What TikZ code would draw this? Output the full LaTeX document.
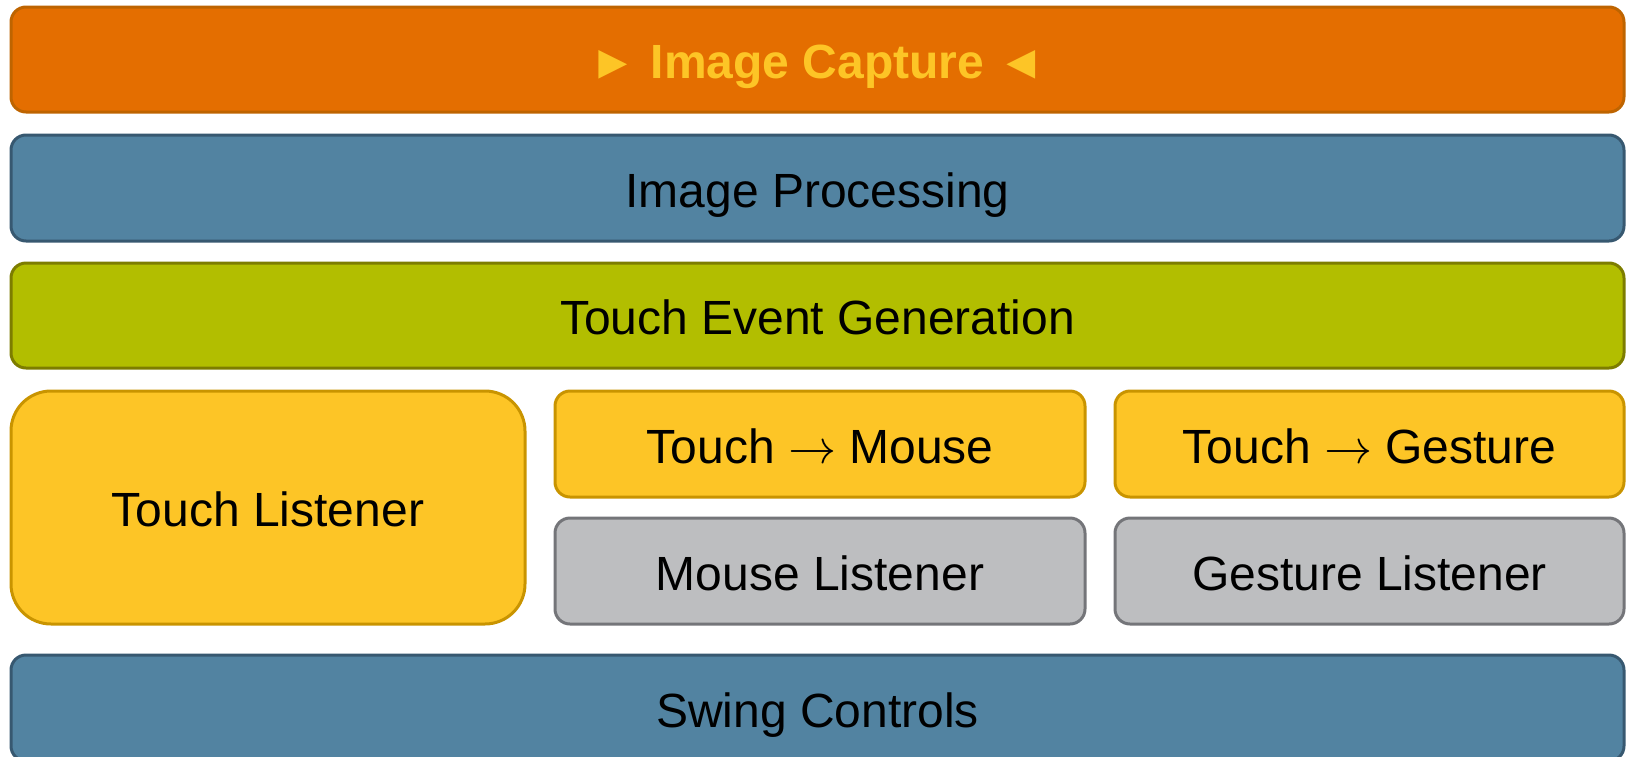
\documentclass[tikz,border=0pt]{standalone}
\usepackage{fontspec}
\usepackage{unicode-math}
\setmainfont{Liberation Sans}
\definecolor{capfill}{RGB}{228,110,0}
\definecolor{capline}{RGB}{190,100,0}
\definecolor{captext}{RGB}{253,197,38}
\definecolor{bluefill}{RGB}{82,131,161}
\definecolor{blueline}{RGB}{55,88,112}
\definecolor{greenfill}{RGB}{178,190,0}
\definecolor{greenline}{RGB}{125,125,0}
\definecolor{yelfill}{RGB}{253,197,38}
\definecolor{yelline}{RGB}{201,148,0}
\definecolor{grayfill}{RGB}{189,190,192}
\definecolor{grayline}{RGB}{116,117,121}
\newcommand{\toarrow}{\(\rightarrow\)}
\tikzset{
  layer/.style={rectangle, rounded corners=15pt, line width=3pt,
    inner sep=0pt, outer sep=0pt, text height=38pt, text depth=0pt,
    font=\fontsize{48}{50}\selectfont, align=center},
  capbox/.style={layer, fill=capfill, draw=capline, text=captext,
    font=\fontsize{48}{50}\selectfont\bfseries},
  bluebox/.style={layer, fill=bluefill, draw=blueline},
  greenbox/.style={layer, fill=greenfill, draw=greenline},
  yelbox/.style={layer, fill=yelfill, draw=yelline},
  graybox/.style={layer, fill=grayfill, draw=grayline},
}
\begin{document}
\begin{tikzpicture}[x=1pt,y=-1pt]
\useasboundingbox (0,0) rectangle (1626,756);
\node[capbox, minimum width=1613pt, minimum height=105pt] (capture) at (817.5,59.5) {► Image Capture ◄};
\node[bluebox, minimum width=1613pt, minimum height=106pt] (processing) at (817.5,188) {Image Processing};
\node[greenbox, minimum width=1613pt, minimum height=105pt] (generation) at (817.5,315.5) {Touch Event Generation};
\node[yelbox, rounded corners=40pt, minimum width=514pt, minimum height=233pt] (tlistener) at (268,507.5) {Touch Listener};
\node[yelbox, minimum width=530pt, minimum height=106pt] (tomouse) at (820,444) {Touch \toarrow{} Mouse};
\node[graybox, minimum width=530pt, minimum height=106pt] (mlistener) at (820,571) {Mouse Listener};
\node[yelbox, minimum width=509pt, minimum height=106pt] (togesture) at (1369.5,444) {Touch \toarrow{} Gesture};
\node[graybox, minimum width=509pt, minimum height=106pt] (glistener) at (1369.5,571) {Gesture Listener};
\node[bluebox, minimum width=1613pt, minimum height=106pt] (swing) at (817.5,708) {Swing Controls};
\end{tikzpicture}
\end{document}
